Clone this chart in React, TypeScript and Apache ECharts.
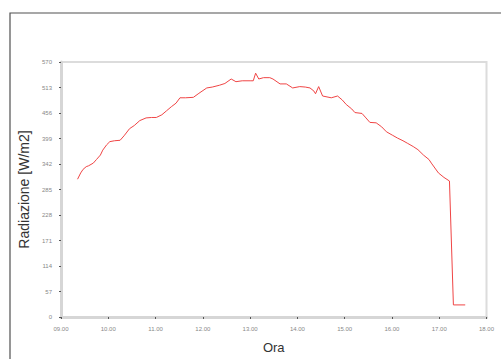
import React, { useEffect, useRef } from "react";
import * as echarts from "echarts";

const times: string[] = [
  "09:21", "09:25", "09:28", "09:32", "09:35", "09:41", "09:45", "09:50", "09:53", "09:58",
  "10:02", "10:08", "10:15", "10:20", "10:27", "10:33", "10:40", "10:48", "10:55",
  "11:01", "11:08", "11:14", "11:20", "11:26", "11:31", "11:38", "11:48", "11:55",
  "12:05", "12:12", "12:21", "12:28", "12:36", "12:42", "12:50",
  "13:00", "13:04", "13:07", "13:11", "13:17", "13:25", "13:29", "13:38", "13:46", "13:54",
  "14:03", "14:10", "14:16", "14:21", "14:23", "14:27", "14:32", "14:43", "14:51", "14:57",
  "15:02", "15:09", "15:13", "15:22", "15:27", "15:32", "15:40", "15:47", "15:53",
  "16:01", "16:07", "16:14", "16:20", "16:27", "16:33", "16:40", "16:47", "16:50", "16:59",
  "17:06", "17:13", "17:18", "17:33",
];

const radiazione: number[] = [
  308, 322, 330, 336, 338, 344, 352, 362, 373, 385,
  392, 394, 395, 405, 421, 428, 439, 445, 446,
  446, 452, 461, 470, 478, 490, 490, 491, 500,
  512, 514, 518, 522, 532, 526, 528,
  528, 528, 545, 532, 535, 535, 532, 521, 521, 512,
  515, 514, 512, 505, 499, 515, 494, 490, 494, 485,
  475, 465, 457, 455, 445, 435, 434, 425, 414,
  406, 400, 394, 388, 381, 374, 362, 352, 344, 322,
  312, 304, 27, 27,
];

const yTicks: number[] = [0, 57, 114, 171, 228, 285, 342, 399, 456, 513, 570];
const xTickLabels: string[] = ["09.00", "10.00", "11.00", "12.00", "13.00", "14.00", "15.00", "16.00", "17.00", "18.00"];

const toHours = (t: string) => {
  const [h, m] = t.split(":").map(Number);
  return h + m / 60;
};

export default function App() {
  const ref = useRef<HTMLDivElement>(null);
  useEffect(() => {
    if (!ref.current) return;
    const chart = echarts.init(ref.current, undefined, { renderer: "svg" });
    const font = "Liberation Sans, Arial, sans-serif";
    chart.setOption({
      animation: false,
      backgroundColor: "#ffffff",
      graphic: [
        {
          type: "rect",
          shape: { x: 10, y: 13, width: 600, height: 500 },
          style: { fill: "none", stroke: "#505050", lineWidth: 1.2 },
          silent: true,
        },
      ],
      grid: {
        left: 61,
        top: 62,
        right: 14.5,
        bottom: 36.5,
        show: true,
        borderColor: "#dcdcdc",
        borderWidth: 2,
        backgroundColor: "transparent",
      },
      xAxis: {
        type: "value",
        min: 9,
        max: 18,
        interval: 1,
        name: "Ora",
        nameLocation: "middle",
        nameGap: 24,
        nameTextStyle: { fontFamily: font, fontSize: 13, color: "#333" },
        axisLine: { show: true, onZero: false, lineStyle: { color: "#d6d6d6", width: 3 } },
        axisTick: { show: true, length: 2, lineStyle: { color: "#555", width: 1 } },
        axisLabel: {
          fontFamily: font,
          fontSize: 6,
          color: "#888",
          margin: 9,
          formatter: (v: number) => xTickLabels[Math.round(v - 9)] ?? "",
        },
        splitLine: { show: false },
      },
      yAxis: {
        type: "value",
        min: 0,
        max: 570,
        interval: 57,
        name: "Radiazione [W/m2]",
        nameLocation: "middle",
        nameGap: 28,
        nameTextStyle: { fontFamily: font, fontSize: 14, color: "#333" },
        axisLine: { show: true, lineStyle: { color: "#d6d6d6", width: 3 } },
        axisTick: { show: true, length: 2, lineStyle: { color: "#555", width: 1 } },
        axisLabel: {
          fontFamily: font,
          fontSize: 6,
          color: "#888",
          margin: 9,
          formatter: (v: number) => (yTicks.includes(v) ? String(v) : ""),
        },
        splitLine: { show: false },
      },
      series: [
        {
          type: "line",
          data: times.map((t, i) => [toHours(t), radiazione[i]]),
          showSymbol: false,
          lineStyle: { color: "#f04545", width: 1 },
        },
      ],
    });
    return () => chart.dispose();
  }, []);
  return (
    <div
      ref={ref}
      style={{ position: "fixed", left: 0, top: 0, width: 501, height: 359 }}
    />
  );
}
